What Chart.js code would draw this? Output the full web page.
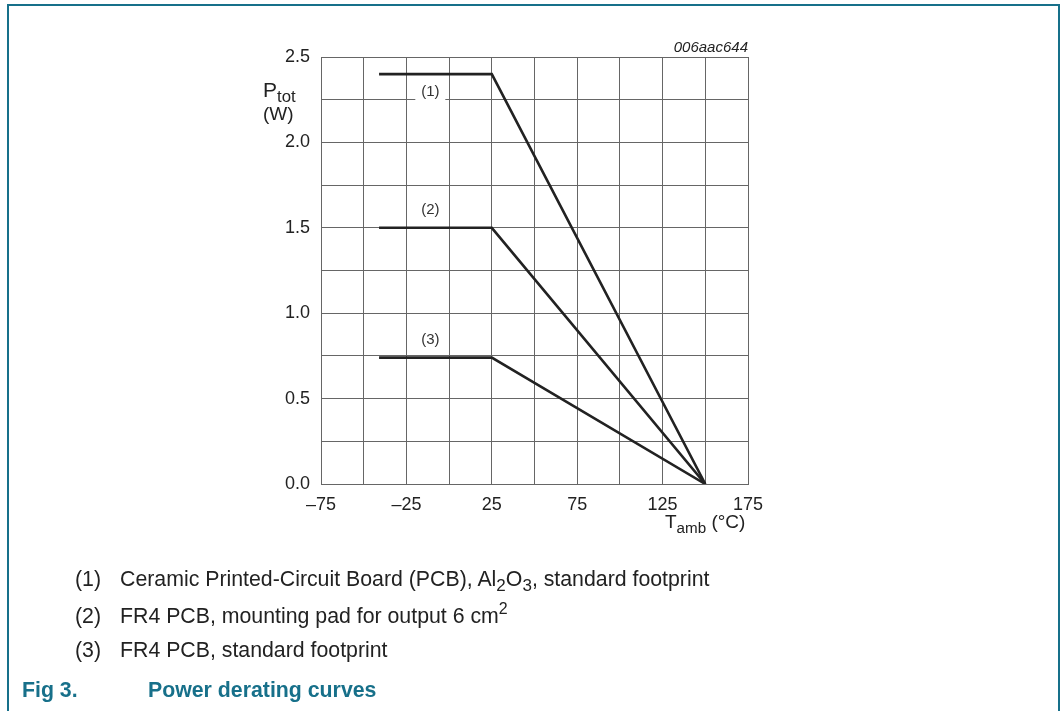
<!DOCTYPE html>
<html>
<head>
<meta charset="utf-8">
<script src="https://cdn.jsdelivr.net/npm/chart.js@4.4.1/dist/chart.umd.min.js"></script>
<style>
    html, body { margin: 0; padding: 0; background: #fff; }
    body { width: 1063px; height: 711px; position: relative; overflow: hidden; font-family: 'Liberation Sans', Arial, sans-serif; color: #222; }
    #frame { position: absolute; left: 7px; top: 4px; width: 1053px; height: 720px; border-top: 2px solid #17708a; border-left: 2px solid #17708a; border-right: 2px solid #17708a; box-sizing: border-box; }
    #wrap { position: absolute; left: 0; top: 0; width: 1063px; height: 711px; }
    .txt { position: absolute; line-height: 1; white-space: nowrap; }
    sub { font-size: 0.8em; vertical-align: -0.3em; line-height: 0; }
    sup { font-size: 0.75em; vertical-align: 0.55em; line-height: 0; }
    .note { font-size: 21.3px; }
    .num { position: absolute; left: 75px; }
    .desc { position: absolute; left: 120px; }
    #caption { left: 22px; top: 680px; font-size: 21.3px; font-weight: bold; color: #17708a; }
</style>
</head>
<body>
<div id="frame"></div>
<div id="wrap"><canvas id="derating"></canvas></div>

<div class="txt" style="right: 315px; top: 39px; font-size: 15px; font-style: italic;">006aac644</div>
<div class="txt" style="left: 263px; top: 79px; font-size: 21px;">P<sub>tot</sub></div>
<div class="txt" style="left: 263px; top: 104px; font-size: 19px;">(W)</div>
<div class="txt" style="left: 665px; top: 512px; font-size: 19px;">T<sub>amb</sub> (°C)</div>

<div class="txt note" style="top: 569px;"><span class="num">(1)</span><span class="desc">Ceramic Printed-Circuit Board (PCB), Al<sub>2</sub>O<sub>3</sub>, standard footprint</span></div>
<div class="txt note" style="top: 606px;"><span class="num">(2)</span><span class="desc">FR4 PCB, mounting pad for output 6 cm<sup>2</sup></span></div>
<div class="txt note" style="top: 640px;"><span class="num">(3)</span><span class="desc">FR4 PCB, standard footprint</span></div>
<div class="txt" id="caption">Fig 3.<span style="position: absolute; left: 126px;">Power derating curves</span></div>

<script>
// T_amb break points (°C)
var Tamb = [-41, 25, 150];
// P_tot (W) for each mounting case
var Ceramic = [2.4, 2.4, 0];
var Fr4Pad = [1.5, 1.5, 0];
var Fr4Std = [0.74, 0.74, 0];
var CurveNames = ['(1)', '(2)', '(3)'];

var Form = {
    Points: function (values) {
        var list = [];
        for (var i = 0; i < Tamb.length; ++i) {
            list.push({ x: Tamb[i], y: values[i] });
        }
        return list;
    },
    Curve: function (name, values) {
        return {
            label: name,
            data: Form.Points(values),
            showLine: true,
            borderColor: '#222222',
            borderWidth: 2.6,
            pointRadius: 0,
            fill: false
        };
    }
};

// draws (1) (2) (3) beside each plateau
var curveLabels = {
    id: 'curveLabels',
    afterDatasetsDraw: function (chart) {
        var ctx = chart.ctx;
        var xs = chart.scales.x, ys = chart.scales.y;
        ctx.save();
        ctx.font = '15px "Liberation Sans", Arial, sans-serif';
        ctx.textAlign = 'center';
        ctx.textBaseline = 'middle';
        chart.data.datasets.forEach(function (ds, i) {
            var px = xs.getPixelForValue(-11);
            var py = ys.getPixelForValue(ds.data[0].y) + (i === 0 ? 18 : -18);
            if (i === 0) {
                ctx.fillStyle = '#ffffff';
                ctx.fillRect(px - 15, py - 10, 30, 20);
            }
            ctx.fillStyle = '#333333';
            ctx.fillText(ds.label, px, py);
        });
        ctx.restore();
    }
};

var gridColor = '#666666';

new Chart(document.getElementById('derating').getContext('2d'), {
    type: 'scatter',
    data: {
        datasets: [
            Form.Curve(CurveNames[0], Ceramic),
            Form.Curve(CurveNames[1], Fr4Pad),
            Form.Curve(CurveNames[2], Fr4Std)
        ]
    },
    options: {
        responsive: true,
        maintainAspectRatio: false,
        animation: false,
        layout: { padding: { left: 0, top: 57, right: 315, bottom: 177 } },
        plugins: {
            legend: { display: false },
            tooltip: { enabled: false }
        },
        scales: {
            x: {
                type: 'linear',
                min: -75,
                max: 175,
                afterFit: function (scale) { scale.height = 50; },
                grid: { color: gridColor, lineWidth: 1, drawTicks: false },
                border: { display: true, color: gridColor, width: 1 },
                ticks: {
                    stepSize: 25,
                    autoSkip: false,
                    maxRotation: 0,
                    padding: 10,
                    color: '#222222',
                    font: { family: '"Liberation Sans", Arial, sans-serif', size: 18 },
                    callback: function (v) {
                        if ((v + 75) % 50 !== 0) return '';
                        return v < 0 ? '\u2013' + Math.abs(v) : String(v);
                    }
                }
            },
            y: {
                type: 'linear',
                min: 0,
                max: 2.5,
                afterFit: function (scale) { scale.width = 321; },
                grid: { color: gridColor, lineWidth: 1, drawTicks: false },
                border: { display: true, color: gridColor, width: 1 },
                ticks: {
                    stepSize: 0.25,
                    autoSkip: false,
                    padding: 11,
                    color: '#222222',
                    font: { family: '"Liberation Sans", Arial, sans-serif', size: 18 },
                    callback: function (v) {
                        return Math.round(v * 100) % 50 === 0 ? v.toFixed(1) : '';
                    }
                }
            }
        }
    },
    plugins: [curveLabels]
});
</script>
</body>
</html>
